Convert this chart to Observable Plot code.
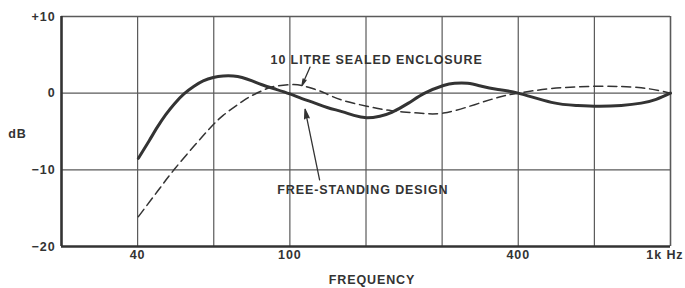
<!DOCTYPE html>
<html>
<head>
<meta charset="utf-8">
<script src="https://cdn.jsdelivr.net/npm/d3@7"></script>
<script src="https://cdn.jsdelivr.net/npm/@observablehq/plot@0.6"></script>
<style>
  html, body { margin: 0; padding: 0; background: #fff; }
  svg text { letter-spacing: 0.9px; }
</style>
</head>
<body>
<div id="chart"></div>
<script>
// Frequency response (dB) vs frequency (Hz)
const solidHz = [40, 42.7, 44.9, 47.2, 49.7, 52.7, 56.0, 59.2, 62.9, 66.8, 71.0, 74.9, 79.6, 84.5, 92.0, 100, 107.6, 116.4, 125.9, 137, 147.3, 159.3, 172.3, 185.2, 204.9, 226.1, 253.2, 271, 293.1, 318.9, 349.1, 398, 486.6, 565.7, 645, 742.6, 837.7, 917, 1000];
const solidDb = [-8.5, -6.2, -4.4, -2.8, -1.4, -0.1, 0.9, 1.6, 2.05, 2.25, 2.25, 2.05, 1.6, 1.1, 0.5, -0.1, -0.7, -1.3, -1.9, -2.4, -2.9, -3.2, -3.0, -2.5, -1.3, 0, 1.0, 1.3, 1.3, 0.9, 0.5, 0, -1.2, -1.6, -1.7, -1.6, -1.3, -0.8, 0];
const dashHz = [40, 44.9, 49.6, 56.0, 61.3, 66.8, 74.9, 79.6, 86.1, 91.5, 100, 107.6, 116.4, 123.7, 137, 159.3, 185.2, 217.7, 253.2, 305.8, 355.5, 398, 486.6, 645, 837.7, 1000];
const dashDb = [-16.1, -12.8, -10, -6.9, -4.7, -2.9, -1.1, -0.3, 0.5, 0.9, 1.1, 1.0, 0.5, 0.0, -0.9, -1.7, -2.3, -2.6, -2.6, -1.5, -0.5, 0, 0.6, 0.9, 0.7, 0];

const gridHz = [25.12, 39.81, 63.1, 100, 158.5, 251.2, 398.1, 631, 1000];
const xTickHz = [39.81, 100, 398.1];
const xTickLabels = ["40", "100", "400"];
const lastTickLabel = "1k Hz";
const yTicks = [10, 0, -10, -20];
const yTickLabels = ["+10", "0", "\u221210", "\u221220"];
const yGrid = [0, -10];

const labelText = ["10 LITRE SEALED ENCLOSURE", "FREE-STANDING DESIGN"];
const labelHz = [169, 155.5];
const labelDb = [4.3, -12.65];
const arrowFromHz = [113, 119.7];
const arrowFromDb = [3.4, -11.3];
const arrowToHz = [107.6, 109.6];
const arrowToDb = [1.0, -2.1];

const solid = solidHz.map((f, i) => ({f, db: solidDb[i]}));
const dashed = dashHz.map((f, i) => ({f, db: dashDb[i]}));
const labels = labelText.map((t, i) => ({t, f: labelHz[i], db: labelDb[i]}));
const arrows = arrowFromHz.map((f, i) => ({x1: f, y1: arrowFromDb[i], x2: arrowToHz[i], y2: arrowToDb[i]}));
const xLab = new Map(xTickHz.map((d, i) => [d, xTickLabels[i]]));
const yLab = new Map(yTicks.map((d, i) => [d, yTickLabels[i]]));

const ink = "#333";
const gridInk = "#5a5a5a";

const chart = Plot.plot({
  width: 685,
  height: 288,
  marginLeft: 61,
  marginRight: 15,
  marginTop: 16,
  marginBottom: 42,
  style: {fontFamily: "'Liberation Sans', Arial, sans-serif", fontSize: "12.5px", fontWeight: "bold", color: ink, background: "#fff"},
  x: {type: "log", domain: [gridHz[0], gridHz[gridHz.length - 1]]},
  y: {domain: [-20, 10]},
  marks: [
    Plot.ruleX(gridHz.slice(1, -1), {stroke: gridInk, strokeWidth: 1.2}),
    Plot.ruleY(yGrid, {stroke: gridInk, strokeWidth: 1.2}),
    Plot.ruleY([10], {stroke: gridInk, strokeWidth: 1.6}),
    Plot.ruleX([gridHz[gridHz.length - 1]], {stroke: gridInk, strokeWidth: 1.6}),
    Plot.ruleY([-20], {stroke: ink, strokeWidth: 2.6}),
    Plot.ruleX([gridHz[0]], {stroke: ink, strokeWidth: 2.6}),
    Plot.line(dashed, {x: "f", y: "db", curve: "natural", stroke: ink, strokeWidth: 1.5, strokeDasharray: "9,5"}),
    Plot.line(solid, {x: "f", y: "db", curve: "natural", stroke: ink, strokeWidth: 3}),
    Plot.arrow(arrows, {x1: "x1", y1: "y1", x2: "x2", y2: "y2", stroke: ink, fill: ink, strokeWidth: 1.3, headLength: 11, headAngle: 28}),
    Plot.text(labels, {x: "f", y: "db", text: "t", fill: ink, textAnchor: "middle", lineAnchor: "middle"}),
    Plot.axisX({ticks: xTickHz, tickFormat: d => xLab.get(d), tickSize: 0, tickPadding: 4, label: null, fill: ink}),
    Plot.text([lastTickLabel], {x: gridHz[gridHz.length - 1], frameAnchor: "bottom", textAnchor: "end", lineAnchor: "top", dy: 4, dx: 13, fill: ink}),
    Plot.axisY({ticks: yTicks, tickFormat: d => yLab.get(d), tickSize: 0, tickPadding: 6, label: null, fill: ink}),
    Plot.text(["FREQUENCY"], {frameAnchor: "bottom", lineAnchor: "middle", dy: 33, dx: 6, fill: ink}),
    Plot.text(["dB"], {frameAnchor: "left", y: -5.3, dx: -44, textAnchor: "middle", lineAnchor: "middle", fill: ink})
  ]
});
document.getElementById("chart").appendChild(chart);
</script>
</body>
</html>
